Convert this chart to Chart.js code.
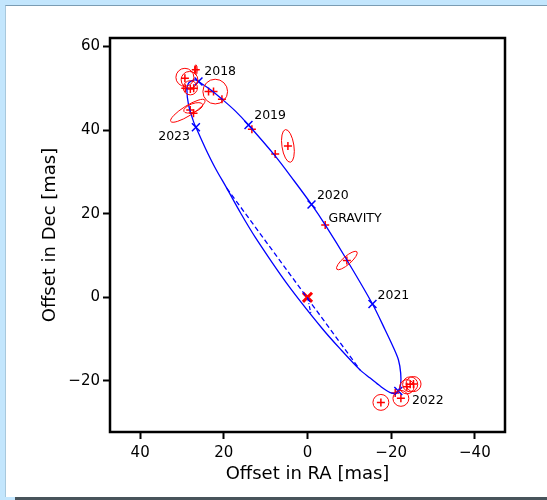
<!DOCTYPE html>
<html><head><meta charset="utf-8">
<script src="https://cdn.jsdelivr.net/npm/chart.js@4/dist/chart.umd.min.js"></script>
<style>
html,body{margin:0;padding:0;}
body{width:547px;height:500px;background:#c3e6fd;position:relative;overflow:hidden;}
#panel{position:absolute;left:5px;top:5px;width:542px;height:492px;background:#fff;border-top:1px solid #7a9cb3;border-left:1px solid #a8c8dc;box-sizing:border-box;}
#bar{position:absolute;left:15px;top:497px;width:532px;height:3px;background:#48545b;}
canvas{position:absolute;left:0;top:0;}
</style></head><body>
<div id="panel"></div><div id="bar"></div>
<canvas id="c" width="547" height="500"></canvas>
<script>
// ---- data ----
const orbitX = [26.05,23.25,20.45,17.28,14.1,7.93,3.21,-0.96,-4.23,-9.41,-15.53,-18.57,-20.48,-21.74,-22.27,-22.27,-21.79,-20.96,-19.76,-17.37,-14.98,-12.6,-7.93,-3.46,4.87,12.47,15.99,19.3,22.05,24.44,26.67,27.24,28.43,28.82,28.43,27.62,26.83,26.05];
const orbitY = [51.6,49.7,47.4,44.57,41.2,34.04,27.87,22.2,17.30,8.92,-1.60,-7.82,-11.89,-14.98,-18.11,-20.74,-22.18,-22.89,-22.78,-21.22,-19.31,-17.4,-12.46,-7.39,3.23,14.35,20.17,26.1,30.93,35.72,40.67,42.0,46.0,49.6,51.2,51.8,52.0,51.6];

const nodesX = [19.3,-12.6];
const nodesY = [26.1,-17.4];

const motionX = [0,-0.8];
const motionY = [0,-3.8];

const epochX = [26.05,14.1,-0.96,-15.53,-21.7,26.67];
const epochY = [51.6,41.2,22.2,-1.60,-22.4,40.67];

const labelText = ['2018','2019','2020','GRAVITY','2021','2022','2023'];
const labelX = [24.68,12.74,-2.25,-5.02,-16.73,-24.95,35.68];
const labelY = [53.83,43.37,24.23,18.73,0.38,-24.81,38.42];

const obsX = [29.3,26.7,29.2,28.0,27.2,23.65,22.46,20.45,28.03,27.24,13.29,7.72,4.68,-4.23,-9.41,-20.96,-17.54,-22.32,-23.75,-24.54,-25.33];
const obsY = [52.4,54.4,50.0,49.8,50.0,49.19,49.19,47.37,44.81,44.02,40.19,34.28,36.2,17.30,8.80,-22.89,-25.12,-24.16,-21.39,-20.81,-20.74];

const ellX = [29.3,28.2,28.0,22.05,28.6,27.3,26.7,4.68,-9.41,-17.54,-22.32,-23.75,-24.54,-25.33];
const ellY = [52.6,52.0,50.1,49.19,44.6,45.3,54.4,36.2,8.80,-25.12,-24.16,-21.39,-20.81,-20.74];
const ellA = [2.15,2.0,1.7,2.95,4.8,2.4,1.2,3.95,3.18,1.9,1.9,1.7,1.8,1.8];
const ellB = [2.15,2.0,1.7,2.95,1.2,1.0,0.35,1.43,0.96,1.9,1.9,1.7,1.8,1.8];
const ellAng = [0,0,0,0,32,20,90,98.5,41,0,0,0,0,0];

const starX = [0];
const starY = [0];

const xTicks = [40,20,0,-20,-40];
const yTicks = [60,40,20,0,-20];

// ---- build ----
const pts = (xs,ys)=>xs.map((x,i)=>({x:x,y:ys[i]}));
const minus = v => (v<0 ? '\u2212'+Math.abs(v) : ''+v);

Chart.defaults.font.family = "'DejaVu Sans'";
Chart.defaults.color = '#000';

const extrasPlugin = {
  id:'extras',
  afterDatasetsDraw(chart){
    const {ctx, chartArea:a, scales:{x,y}} = chart;
    const pxPerUnit = Math.abs(x.getPixelForValue(1)-x.getPixelForValue(0));
    const pyPerUnit = Math.abs(y.getPixelForValue(1)-y.getPixelForValue(0));
    ctx.save();
    ctx.beginPath(); ctx.rect(a.left,a.top,a.right-a.left,a.bottom-a.top); ctx.clip();
    ctx.strokeStyle = '#ff0000'; ctx.lineWidth = 1;
    for(let i=0;i<ellX.length;i++){
      const cx = x.getPixelForValue(ellX[i]), cy = y.getPixelForValue(ellY[i]);
      ctx.beginPath();
      ctx.ellipse(cx,cy,ellA[i]*pxPerUnit,ellB[i]*pyPerUnit,-ellAng[i]*Math.PI/180,0,Math.PI*2);
      ctx.stroke();
    }
    ctx.restore();
    ctx.save();
    ctx.fillStyle = '#000';
    ctx.font = "12.5px 'DejaVu Sans'";
    ctx.textAlign = 'left'; ctx.textBaseline = 'middle';
    for(let i=0;i<labelText.length;i++){
      ctx.fillText(labelText[i], x.getPixelForValue(labelX[i]), y.getPixelForValue(labelY[i]));
    }
    ctx.restore();
    ctx.save();
    ctx.strokeStyle = '#000'; ctx.lineWidth = 2.5;
    ctx.strokeRect(a.left,a.top,a.right-a.left,a.bottom-a.top);
    ctx.restore();
  }
};

new Chart(document.getElementById('c'), {
  type:'scatter',
  data:{datasets:[
    {data:pts(orbitX,orbitY), showLine:true, borderColor:'#0000ff', borderWidth:1.3, pointRadius:0, tension:0.3, fill:false},
    {data:pts(nodesX,nodesY), showLine:true, borderColor:'#0000ff', borderWidth:1.3, borderDash:[5,3], pointRadius:0},
    {data:pts(motionX,motionY), showLine:true, borderColor:'#0000ff', borderWidth:1.2, borderDash:[4,2,1,2], pointRadius:0},
    {data:pts(epochX,epochY), pointStyle:'crossRot', pointRadius:5.6, borderColor:'#0000ff', backgroundColor:'#0000ff', pointBorderWidth:1.5},
    {data:pts(obsX,obsY), pointStyle:'cross', pointRadius:4, borderColor:'#ff0000', backgroundColor:'#ff0000', pointBorderWidth:1.5},
    {data:pts(starX,starY), pointStyle:'crossRot', pointRadius:6.4, borderColor:'#ff0000', backgroundColor:'#ff0000', pointBorderWidth:3}
  ]},
  options:{
    responsive:false, animation:false, devicePixelRatio:1,
    layout:{padding:{left:0,top:38,right:42,bottom:0}},
    plugins:{legend:{display:false}, tooltip:{enabled:false}},
    scales:{
      x:{type:'linear', reverse:true, min:-47.2, max:47.2,
        afterBuildTicks:s=>{s.ticks = xTicks.map(v=>({value:v}));},
        afterFit:s=>{s.height = 68;},
        grid:{display:true, drawOnChartArea:false, drawTicks:true, tickLength:7, tickWidth:2, tickColor:'#000'},
        border:{display:false},
        ticks:{font:{size:15}, color:'#000', padding:5, maxRotation:0, callback:v=>minus(v)},
        title:{display:true, text:'Offset in RA [mas]', font:{size:18}, color:'#000', padding:{top:0,bottom:15.2}}
      },
      y:{type:'linear', min:-32.2, max:62,
        afterBuildTicks:s=>{s.ticks = yTicks.map(v=>({value:v}));},
        afterFit:s=>{s.width = 110;},
        grid:{display:true, drawOnChartArea:false, drawTicks:true, tickLength:7, tickWidth:2, tickColor:'#000'},
        border:{display:false},
        ticks:{font:{size:15}, color:'#000', padding:3, callback:v=>minus(v)},
        title:{display:true, text:'Offset in Dec [mas]', font:{size:18}, color:'#000', padding:{top:39.2,bottom:0}}
      }
    }
  },
  plugins:[extrasPlugin]
});
</script>
</body></html>
